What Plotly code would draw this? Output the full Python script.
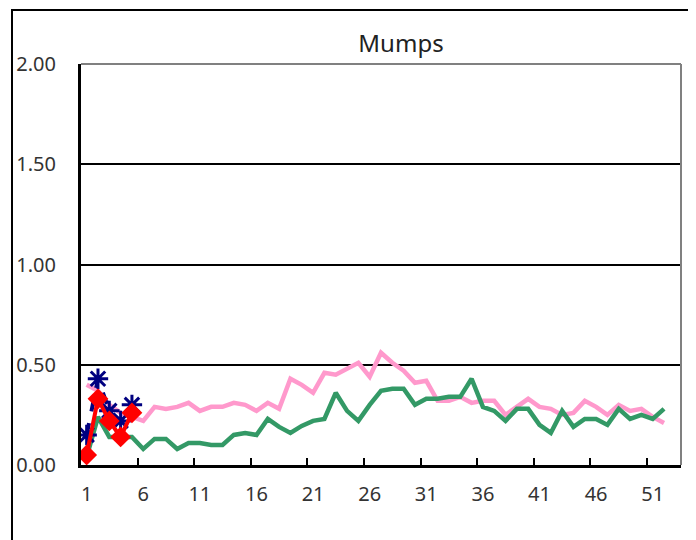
import plotly.graph_objects as go

# ---- data ----
weeks = list(range(1, 54))
tick_weeks = [1, 6, 11, 16, 21, 26, 31, 36, 41, 46, 51]
y_ticks = [0.0, 0.5, 1.0, 1.5, 2.0]

pink_vals = [0.40, 0.37, 0.30, 0.26, 0.24, 0.22, 0.29, 0.28, 0.29, 0.31,
             0.27, 0.29, 0.29, 0.31, 0.30, 0.27, 0.31, 0.28, 0.43, 0.40,
             0.36, 0.46, 0.45, 0.48, 0.51, 0.44, 0.56, 0.51, 0.47, 0.41,
             0.42, 0.32, 0.32, 0.34, 0.31, 0.32, 0.32, 0.25, 0.29, 0.33,
             0.29, 0.28, 0.25, 0.26, 0.32, 0.29, 0.25, 0.30, 0.27, 0.28,
             0.24, 0.21]
green_vals = [0.04, 0.24, 0.14, 0.14, 0.14, 0.08, 0.13, 0.13, 0.08, 0.11,
              0.11, 0.10, 0.10, 0.15, 0.16, 0.15, 0.23, 0.19, 0.16, 0.195,
              0.22, 0.23, 0.36, 0.27, 0.22, 0.30, 0.37, 0.38, 0.38, 0.30,
              0.33, 0.33, 0.34, 0.34, 0.43, 0.29, 0.27, 0.22, 0.28, 0.28,
              0.20, 0.16, 0.27, 0.19, 0.23, 0.23, 0.20, 0.28, 0.23, 0.25,
              0.23, 0.28]
navy_vals = [0.15, 0.43, 0.27, 0.22, 0.30]
red_vals = [0.05, 0.33, 0.22, 0.14, 0.26]

FONT = "Noto Sans"
TXT = "#333333"

# page body has an 8px margin, so the figure is laid out 8px up/left
W, H = 688, 532
L, R, T, B = 73, 15, 56, 75
PW = W - L - R
PH = H - T - B

fig = go.Figure()
fig.add_trace(go.Scatter(x=weeks[:len(pink_vals)], y=pink_vals, mode="lines",
                         line=dict(color="#FF99CC", width=4.5), name="Pink"))
fig.add_trace(go.Scatter(x=weeks[:len(green_vals)], y=green_vals, mode="lines",
                         line=dict(color="#339966", width=4.5), name="Green"))
fig.add_trace(go.Scatter(x=weeks[:len(navy_vals)], y=navy_vals, mode="lines+markers",
                         line=dict(color="#000080", width=4, dash="dash"),
                         marker=dict(symbol="asterisk-open", size=17,
                                     line=dict(color="#000080", width=3)),
                         name="Navy"))
fig.add_trace(go.Scatter(x=weeks[:len(red_vals)], y=red_vals, mode="lines+markers",
                         line=dict(color="#FF0000", width=4),
                         marker=dict(symbol="diamond", size=16, color="#FF0000"),
                         name="Red"))

minor_ticks = [w + 0.5 for w in weeks if w % 5 == 0 and w <= 50]

fig.update_layout(
    width=W, height=H,
    margin=dict(l=L, r=R, t=T, b=B),
    paper_bgcolor="white", plot_bgcolor="white",
    showlegend=False,
    font=dict(family=FONT, size=20, color=TXT),
    title=dict(text="Mumps", x=(393 - L) / PW, xref="paper", xanchor="center",
               y=1 - 36 / H, yref="container", yanchor="middle",
               font=dict(family=FONT, size=24, color="#222222")),
    xaxis=dict(range=[0.5, 53.5], tickmode="array", tickvals=tick_weeks,
               ticktext=[str(t) for t in tick_weeks], ticks="",
               showgrid=False, zeroline=False, automargin=False,
               showline=True, linecolor="black", linewidth=3,
               ticklabelstandoff=9,
               minor=dict(tickmode="array", tickvals=minor_ticks, ticks="inside",
                          ticklen=7, tickwidth=2, tickcolor="black", showgrid=False),
               tickfont=dict(family=FONT, size=20, color=TXT)),
    yaxis=dict(range=[0, 2], tickmode="array", tickvals=y_ticks,
               tickformat=".2f", ticks="", automargin=False,
               showgrid=True, gridcolor="black", gridwidth=2,
               zeroline=False, showline=True, linecolor="black", linewidth=3,
               ticklabelstandoff=18,
               tickfont=dict(family=FONT, size=20, color=TXT)),
    shapes=[
        # outer chart-area frame (extends beyond the visible window)
        dict(type="rect", xref="paper", yref="paper",
             x0=(4 - L) / PW, x1=2.0, y0=-1.0, y1=(T + PH - 2) / PH,
             line=dict(color="black", width=2), fillcolor="rgba(0,0,0,0)",
             layer="below"),
        # gray plot-area border on top and right
        dict(type="line", xref="paper", yref="paper", x0=0, x1=1, y0=1, y1=1,
             line=dict(color="#808080", width=2), layer="above"),
        dict(type="line", xref="paper", yref="paper", x0=1, x1=1, y0=0, y1=1,
             line=dict(color="#808080", width=2), layer="above"),
    ],
)

fig.write_html("out.html")
